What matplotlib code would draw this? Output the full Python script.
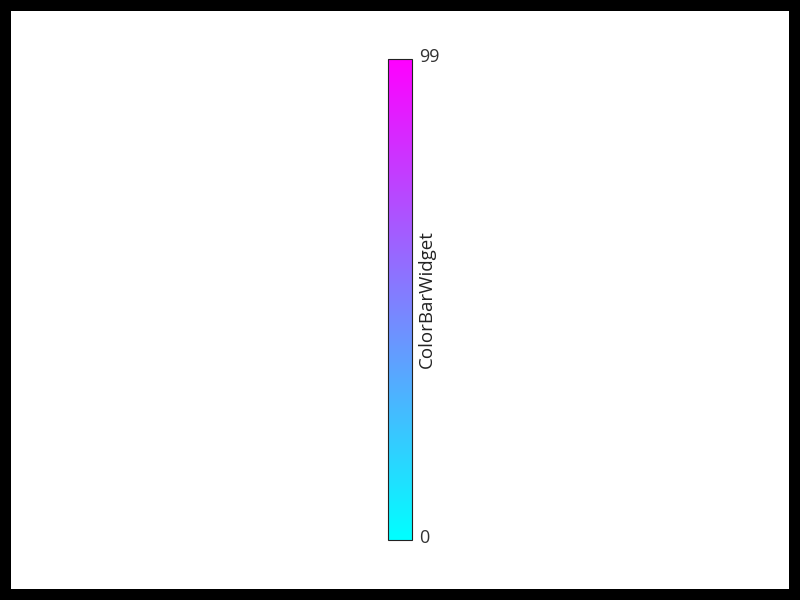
import numpy as np
import matplotlib
matplotlib.use("Agg")
import matplotlib.pyplot as plt
from matplotlib.colors import Normalize
import matplotlib.cm as cm
import matplotlib.transforms as mtransforms

plt.rcParams['font.family'] = ['Open Sans', 'DejaVu Sans']

vmin = 0
vmax = 99
tick_values = [0, 99]
tick_labels = ["0", "99"]
bar_label = "ColorBarWidget"

W, H = 800, 600
fig = plt.figure(figsize=(8, 6), dpi=100, facecolor='black')

# white panel inside the black frame
bg = fig.add_axes([11 / W, 11 / H, 778 / W, 578 / H])
bg.set_facecolor('white')
bg.set_xticks([])
bg.set_yticks([])
for s in bg.spines.values():
    s.set_visible(False)

# colorbar axes
cax = fig.add_axes([388 / W, (H - 540) / H, 24 / W, 481 / H])
norm = Normalize(vmin=vmin, vmax=vmax)
cb = fig.colorbar(cm.ScalarMappable(norm=norm, cmap='cool'), cax=cax)
cb.set_ticks(tick_values)
cb.set_ticklabels(tick_labels)
cax.tick_params(length=0, pad=5, labelsize=13, labelcolor='#333333')
shift = mtransforms.ScaledTranslation(0, 4 / 100, fig.dpi_scale_trans)
for t in cax.get_yticklabels():
    t.set_verticalalignment('center_baseline')
    t.set_transform(t.get_transform() + shift)
cb.outline.set_linewidth(0.8)
cb.outline.set_edgecolor('#222222')
cb.set_label(bar_label, fontsize=13.5, color='#222222', labelpad=-15.5)

fig.savefig("out.png", dpi=100, facecolor=fig.get_facecolor())
